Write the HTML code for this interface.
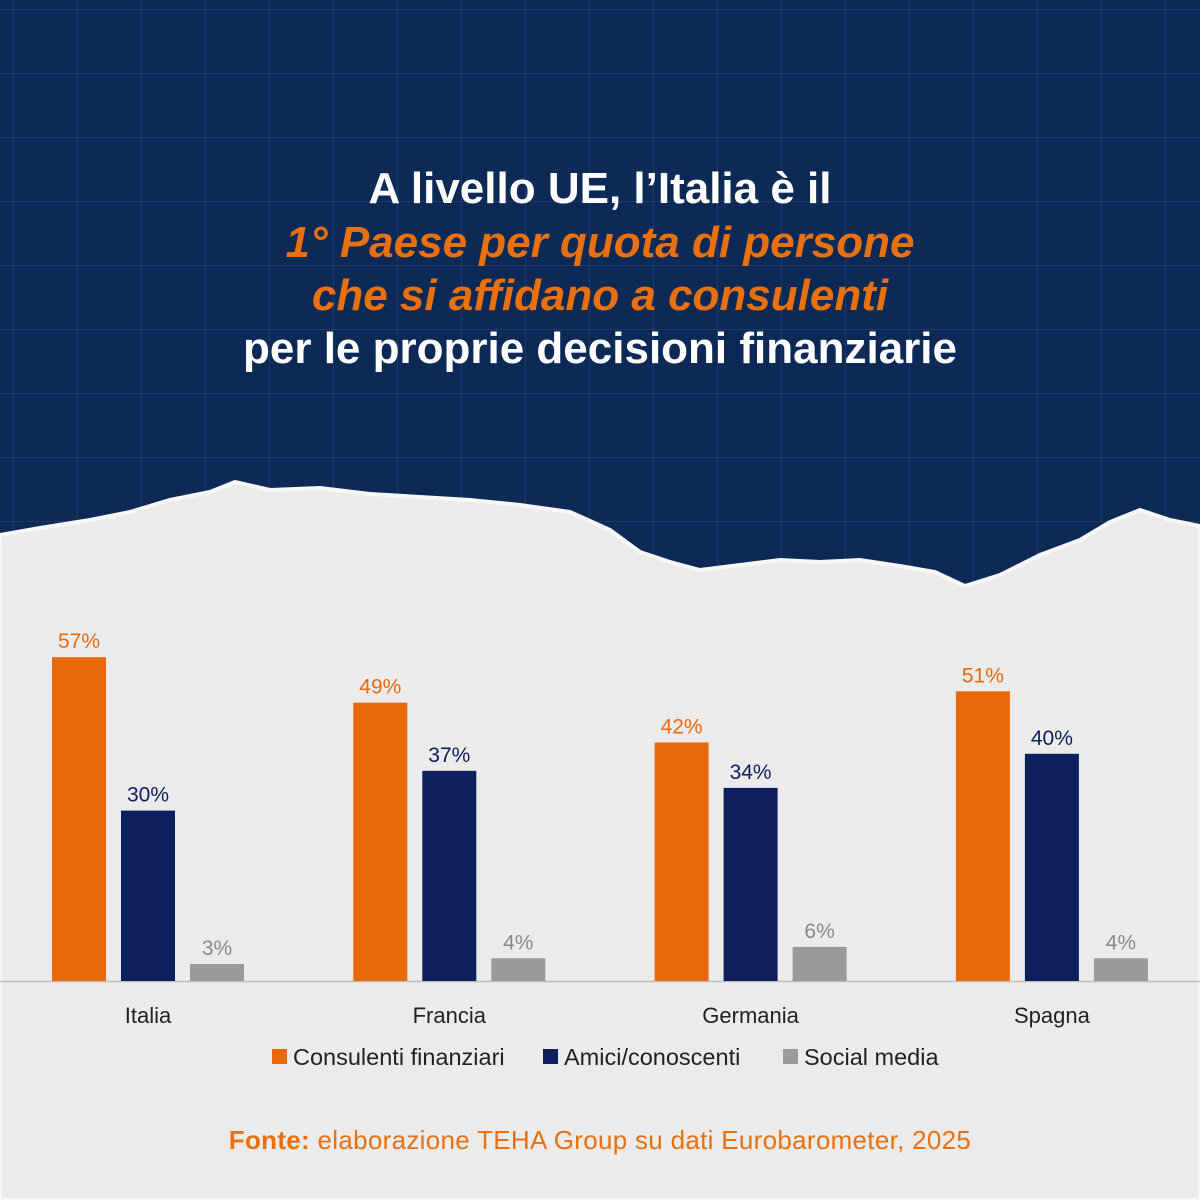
<!DOCTYPE html>
<html><head><meta charset="utf-8"><style>
html,body{margin:0;padding:0;width:1200px;height:1200px;overflow:hidden;background:#ebebeb;font-family:"Liberation Sans",sans-serif}
</style></head><body>
<svg width="1200" height="1200" viewBox="0 0 1200 1200" xmlns="http://www.w3.org/2000/svg">
<defs>
<pattern id="grid" width="64" height="64" patternUnits="userSpaceOnUse" x="14" y="10">
<path d="M64 0V64M0 64H64" stroke="#2a4678" stroke-width="1.5" fill="none"/>
</pattern>
</defs>
<rect width="1200" height="640" fill="#0d2a57"/>
<rect width="1200" height="640" fill="url(#grid)" opacity="0.8"/>
<path fill="#ebebeb" stroke="#f7f7f7" stroke-width="4" d="M0 535 L40 528 L90 520 L130 512 L170 500 L210 492 L235 482 L270 490 L320 488 L370 494 L420 497 L470 500 L520 505 L570 512 L610 530 L640 552 L670 562 L700 570 L740 565 L780 560 L820 562 L860 560 L900 566 L935 572 L965 586 L1000 575 L1040 555 L1080 540 L1110 522 L1140 510 L1170 520 L1200 526 L1200 1200 L0 1200 Z"/>
<g font-weight="bold" font-size="44" text-anchor="middle">
<text x="600" y="203" fill="#ffffff">A livello UE, l’Italia è il</text>
<text x="600" y="257" fill="#e8700f" font-style="italic">1° Paese per quota di persone</text>
<text x="600" y="310" fill="#e8700f" font-style="italic">che si affidano a consulenti</text>
<text x="600" y="363" fill="#ffffff">per le proprie decisioni finanziarie</text>
</g>
<line x1="0" y1="981.5" x2="1200" y2="981.5" stroke="#bdbdbd" stroke-width="1.5"/>
<g id="bars"></g>
<g font-size="23.5" fill="#222">
<rect x="272" y="1049" width="15" height="15" fill="#e8690b"/>
<text x="293" y="1065">Consulenti finanziari</text>
<rect x="543" y="1049" width="15" height="15" fill="#0d1f5c"/>
<text x="564" y="1065">Amici/conoscenti</text>
<rect x="783" y="1049" width="15" height="15" fill="#9a9a9a"/>
<text x="804" y="1065">Social media</text>
</g>
<text x="600" y="1149" text-anchor="middle" font-size="26" letter-spacing="0.3" fill="#e8700f"><tspan font-weight="bold">Fonte:</tspan> elaborazione TEHA Group su dati Eurobarometer, 2025</text>
</svg>
<script>
const categories = ["Italia","Francia","Germania","Spagna"];
const consulenti = [57,49,42,51];
const amici = [30,37,34,40];
const social = [3,4,6,4];
const seriesKeys = ["consulenti","amici","social"];
const seriesValues = [consulenti, amici, social];
const colors = ["#e8690b","#0d1f5c","#9a9a9a"];
const labelColors = ["#e8690b","#0d1f5c","#8a8a8a"];
const NS = "http://www.w3.org/2000/svg";
const g = document.getElementById("bars");
const baseY = 981, pxPer = 5.68, barW = 54, barGap = 15;
function yScale(v){ return baseY - v * pxPer; }
function groupCenter(i){ return 148 + i * 301.3; }
categories.forEach((c, i) => {
  const cx = groupCenter(i);
  seriesValues.forEach((vals, s) => {
    const v = vals[i];
    const x = cx - barW/2 + (s - 1) * (barW + barGap);
    const r = document.createElementNS(NS, "rect");
    r.setAttribute("x", x); r.setAttribute("y", yScale(v));
    r.setAttribute("width", barW); r.setAttribute("height", baseY - yScale(v));
    r.setAttribute("fill", colors[s]);
    
    
    g.appendChild(r);
    const t = document.createElementNS(NS, "text");
    t.setAttribute("x", x + barW/2); t.setAttribute("y", yScale(v) - 9);
    t.setAttribute("text-anchor", "middle"); t.setAttribute("font-size", "21");
    t.setAttribute("fill", labelColors[s]);
    t.textContent = v + "%";
    
    
    g.appendChild(t);
  });
  const l = document.createElementNS(NS, "text");
  l.setAttribute("x", cx); l.setAttribute("y", 1023);
  l.setAttribute("text-anchor", "middle"); l.setAttribute("font-size", "22");
  l.setAttribute("fill", "#222");
  l.textContent = c;
  
  
  g.appendChild(l);
});
</script>
</body></html>
